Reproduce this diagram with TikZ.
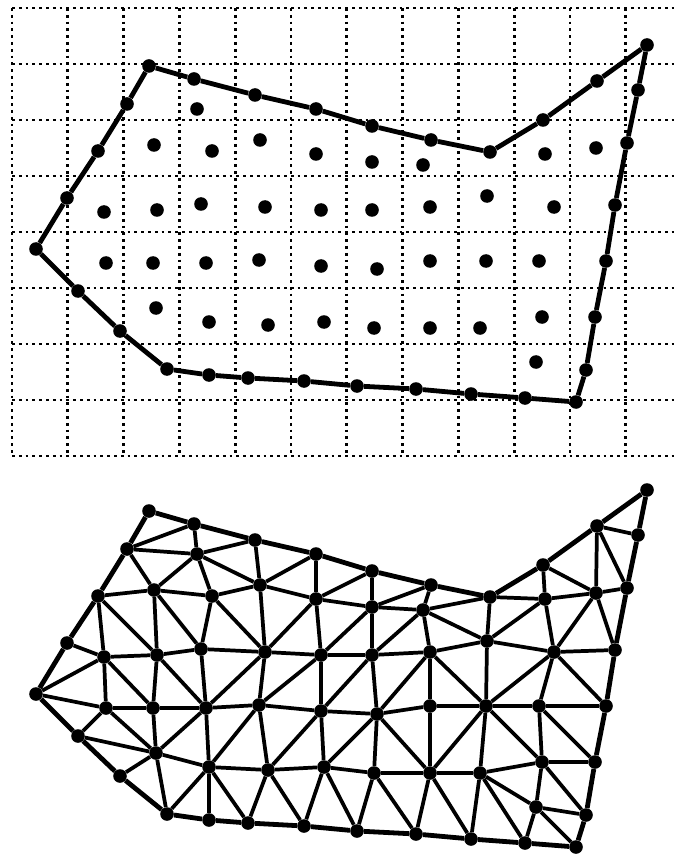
\documentclass[tikz,border=0pt]{standalone}

% points: name/x/y (upper copy, y grows downwards)
\newcommand\meshpoints{%
  b1/149/66, b2/194/79, b3/255/95, b4/316/109, b5/372/126, b6/431/140,
  b7/490/152, b8/543/120, b9/597/81, b10/647/45, b11/638/90, b12/627/143,
  b13/615/205, b14/606/261, b15/595/317, b16/586/370, b17/576/402,
  b18/525/398, b19/471/394, b20/416/389, b21/357/386, b22/304/381,
  b23/248/378, b24/209/375, b25/167/369, b26/120/331, b27/78/291,
  b28/36/249, b29/67/198, b30/98/151, b31/127/104,
  a1/197/109,
  c1/154/145, c2/212/151, c3/260/140, c4/316/154, c5/372/162, c6/423/165,
  c7/545/154, c8/596/148,
  d1/104/212, d2/157/210, d3/201/204, d4/265/207, d5/321/210, d6/372/210,
  d7/430/207, d8/487/196, d9/554/207,
  e1/106/263, e2/153/263, e3/206/263, e4/259/260, e5/321/266, e6/377/269,
  e7/430/261, e8/486/261, e9/539/261,
  f1/156/308, f2/209/322, f3/268/325, f4/324/322, f5/374/328, f6/430/328,
  f7/480/328, f8/542/317,
  g1/536/362}

\begin{document}
\begin{tikzpicture}[x=0.75pt, y=-0.75pt,
    pnt/.style={circle, fill=black, inner sep=0pt, minimum size=10.2pt},
    griddot/.style={line width=2.1pt, dash pattern=on 2.1pt off 3pt},
    rim/.style={line width=3.6pt},
    tri/.style={line width=2.8pt}]
  \useasboundingbox (0,0) rectangle (677,855);

  % dotted grid
  \foreach \k in {0,...,8}
    \draw[griddot] (12,8+56*\k) -- (677,8+56*\k);
  \foreach \k in {0,...,11}
    \draw[griddot] (12+55.8*\k,8) -- (12+55.8*\k,456);

  % points: t- above, m- for the mesh below
  \foreach \n/\x/\y in \meshpoints {
    \node[pnt] (t-\n) at (\x,\y) {};
    \node[pnt] (m-\n) at (\x,\y+445) {};
  }

  % boundary
  \foreach \i [evaluate=\i as \j using {int(mod(\i,31)+1)}] in {1,...,31} {
    \draw[rim] (t-b\i) -- (t-b\j);
    \draw[rim] (m-b\i) -- (m-b\j);
  }

  % triangles
  \foreach \a/\b in {
    b31/b2, b31/a1, b2/a1, a1/b3, a1/c3, b3/c3, c3/b4, b4/c4, c3/c4, c4/b5,
    c4/c5, b5/c5, c5/b6, b6/c6, c5/c6, c6/b7, b31/c1, a1/c1, a1/c2, c2/c3,
    c1/c2, b30/c1,
    b30/d1, b30/d2, c1/d2, c1/d3, c2/d3, c2/d4, c3/d4, c4/d4, c4/d5, c5/d5,
    c5/d6, c6/d6, c6/d7, c6/d8, b7/d8, b29/d1,
    d1/d2, d2/d3, d3/d4, d4/d5, d5/d6, d6/d7, d7/d8, d8/d9,
    b7/c7, b8/c7, b8/c8, b9/c8, b9/b11, b9/b12, c8/b12, c7/c8, c7/d8, c7/d9,
    c8/d9, c8/b13, d9/b13,
    b28/d1, b28/e1, d1/e1, d1/e2, d2/e2, d2/e3, d3/e3, d4/e3, d4/e4, d5/e4,
    d5/e5, d6/e5, d6/e6, d7/e6, d7/e7, d7/e8, d8/e8, d9/e8, d9/e9, d9/b14,
    e1/e2, e2/e3, e3/e4, e4/e5, e5/e6, e6/e7, e7/e8, e8/e9, e9/b14,
    e1/b27, b27/f1, e1/f1, e2/f1, e3/f1, e3/f2, e4/f2, e4/f3, e5/f3, e5/f4,
    e6/f4, e6/f5, e6/f6, e7/f6, e8/f6, e8/f7, e8/f8, e9/f8, e9/b15,
    f1/f2, f2/f3, f3/f4, f4/f5, f5/f6, f6/f7, f7/f8, f8/b15,
    b26/f1, f1/b25, f2/b25, f2/b24, f2/b23, f3/b23, f3/b22, f4/b22, f4/b21,
    f5/b21, f5/b20, f6/b20, f6/b19, f7/b19, f7/b18, f7/g1, f8/g1, f8/b16,
    g1/b16, g1/b17, g1/b18}
    \draw[tri] (m-\a) -- (m-\b);
\end{tikzpicture}
\end{document}
